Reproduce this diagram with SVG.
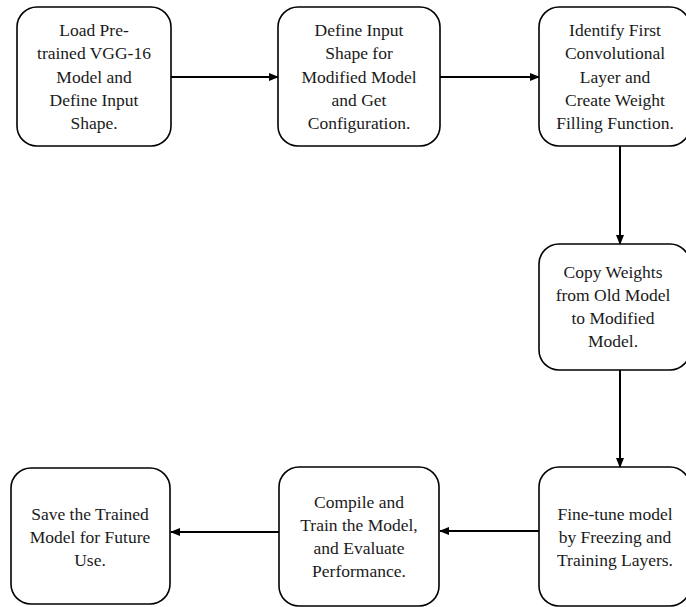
<svg xmlns="http://www.w3.org/2000/svg" width="686" height="607" viewBox="0 0 686 607">
<style>
.n{fill:#fff;stroke:#000;stroke-width:1.6}
.t{font-family:"Liberation Serif",serif;font-size:17.5px;fill:#1a1a1a;text-anchor:middle}
.c{stroke:#000;stroke-width:2;fill:none;marker-end:url(#ah)}
</style>
<defs>
<marker id="ah" markerWidth="10" markerHeight="8" refX="9" refY="4" orient="auto" markerUnits="userSpaceOnUse">
<path d="M0,0 L10,4 L0,8 z" fill="#000"/>
</marker>
</defs>
<rect width="686" height="607" fill="#fff"/>
<g id="connectors">
<line class="c" x1="171" y1="77" x2="278" y2="77"/>
<line class="c" x1="440" y1="77" x2="539" y2="77"/>
<line class="c" x1="620" y1="146" x2="620" y2="244"/>
<line class="c" x1="620" y1="370" x2="620" y2="467"/>
<line class="c" x1="539" y1="531" x2="440" y2="531"/>
<line class="c" x1="279" y1="532" x2="171" y2="532"/>
</g>
<g id="n1">
<rect class="n" x="17" y="7" width="154" height="139" rx="20"/>
<text class="t"><tspan x="94" y="36">Load Pre-</tspan><tspan x="94" y="59">trained VGG-16</tspan><tspan x="94" y="83">Model and</tspan><tspan x="94" y="106">Define Input</tspan><tspan x="94" y="129">Shape.</tspan></text>
</g>
<g id="n2">
<rect class="n" x="278" y="7" width="162" height="139" rx="20"/>
<text class="t"><tspan x="359" y="36">Define Input</tspan><tspan x="359" y="59">Shape for</tspan><tspan x="359" y="83">Modified Model</tspan><tspan x="359" y="106">and Get</tspan><tspan x="359" y="129">Configuration.</tspan></text>
</g>
<g id="n3">
<rect class="n" x="539" y="7" width="151" height="139" rx="20"/>
<text class="t"><tspan x="615" y="36">Identify First</tspan><tspan x="615" y="59">Convolutional</tspan><tspan x="615" y="83">Layer and</tspan><tspan x="615" y="106">Create Weight</tspan><tspan x="615" y="129">Filling Function.</tspan></text>
</g>
<g id="n4">
<rect class="n" x="539" y="244" width="151" height="126" rx="20"/>
<text class="t"><tspan x="613" y="278">Copy Weights</tspan><tspan x="613" y="301">from Old Model</tspan><tspan x="613" y="324">to Modified</tspan><tspan x="613" y="347">Model.</tspan></text>
</g>
<g id="n5">
<rect class="n" x="539" y="467" width="151" height="139" rx="20"/>
<text class="t"><tspan x="615" y="520">Fine-tune model</tspan><tspan x="615" y="543">by Freezing and</tspan><tspan x="615" y="566">Training Layers.</tspan></text>
</g>
<g id="n6">
<rect class="n" x="279" y="467" width="160" height="139" rx="20"/>
<text class="t"><tspan x="359" y="508">Compile and</tspan><tspan x="359" y="531">Train the Model,</tspan><tspan x="359" y="554">and Evaluate</tspan><tspan x="359" y="577">Performance.</tspan></text>
</g>
<g id="n7">
<rect class="n" x="11" y="468" width="159" height="136" rx="20"/>
<text class="t"><tspan x="90" y="520">Save the Trained</tspan><tspan x="90" y="543">Model for Future</tspan><tspan x="90" y="566">Use.</tspan></text>
</g>
</svg>
